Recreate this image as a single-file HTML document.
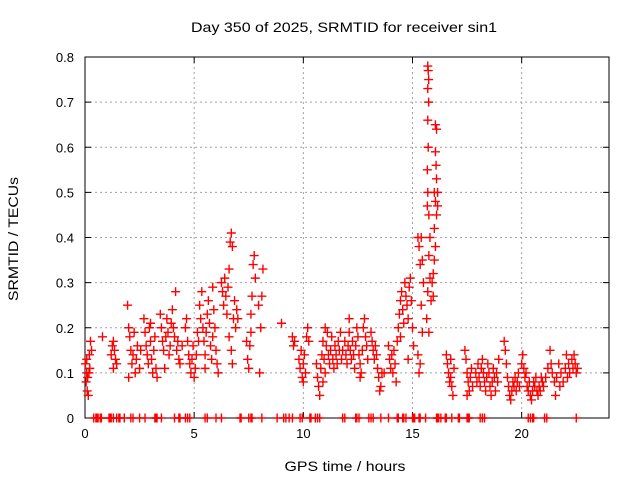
<!DOCTYPE html>
<html><head><meta charset="utf-8"><style>
body{margin:0;background:#fff;}
svg{display:block;font-family:"Liberation Sans",sans-serif;}
</style></head><body>
<svg id="chart" width="640" height="480">
<g id="grid"></g>
<g id="axes"></g>
<g id="marks"></g>
<text x="344" y="32" text-anchor="middle" font-size="14" textLength="306" lengthAdjust="spacingAndGlyphs">Day 350 of 2025, SRMTID for receiver sin1</text>
<text x="345" y="471" text-anchor="middle" font-size="14" textLength="121" lengthAdjust="spacingAndGlyphs">GPS time / hours</text>
<text x="18" y="239" text-anchor="middle" font-size="14" textLength="124" lengthAdjust="spacingAndGlyphs" transform="rotate(-90 18 239)">SRMTID / TECUs</text>
</svg>
<script>
const xTicks=[0,5,10,15,20];
const yTicks=[0,0.1,0.2,0.3,0.4,0.5,0.6,0.7,0.8];
const clusterA=[[0.02,0.12],[0.05,0.08],[0.08,0.1],[0.1,0.06],[0.12,0.09],[0.15,0.05],[0.18,0.1],[0.2,0.14],[0.25,0.17],[0.3,0.15],[0.22,0.11],[0.08,0.13],[0.8,0.18],
[1.2,0.14],[1.25,0.16],[1.3,0.17],[1.35,0.15],[1.4,0.13],[1.45,0.12],[1.3,0.11],
[1.95,0.25],[2.0,0.2],[2.05,0.18],[2.1,0.15],[2.15,0.12],[2.2,0.14],[2.25,0.19],[2.3,0.1],[2.35,0.13],[2.4,0.16],[2.0,0.09],[2.5,0.11],[2.55,0.15],
[2.7,0.22],[2.75,0.19],[2.8,0.16],[2.85,0.14],[2.9,0.12],[2.95,0.2],[3.0,0.17],[3.05,0.13],[3.1,0.1],[3.15,0.15],[3.2,0.18],[3.25,0.11],[3.3,0.09],[3.0,0.21],
[3.45,0.23],[3.5,0.2],[3.55,0.17],[3.6,0.15],[3.7,0.18],[3.75,0.22],[3.8,0.19],[3.85,0.14],[3.9,0.16],[3.95,0.21],[4.0,0.24],[4.05,0.2],[4.1,0.18],[4.15,0.28],[4.2,0.15],[4.25,0.17],[4.3,0.13],[4.35,0.12],[3.65,0.11],[4.45,0.16],
[4.6,0.2],[4.7,0.17],[4.75,0.14],[4.8,0.12],[4.85,0.1],[4.9,0.13],[4.95,0.16],[5.0,0.09],[5.05,0.11],[5.1,0.14],[5.15,0.19],[4.65,0.22],[5.2,0.17]];
const clusterB=[[5.25,0.25],[5.3,0.22],[5.35,0.28],[5.4,0.2],[5.45,0.17],[5.5,0.14],[5.55,0.19],[5.6,0.23],[5.65,0.26],[5.7,0.21],[5.75,0.16],[5.8,0.13],[5.85,0.18],[5.9,0.24],[5.95,0.2],[6.0,0.15],[6.05,0.12],[6.1,0.1],[5.5,0.11],[5.85,0.29],
[6.25,0.3],[6.3,0.28],[6.35,0.25],[6.4,0.31],[6.45,0.27],[6.5,0.23],[6.55,0.29],[6.6,0.33],[6.65,0.39],[6.7,0.41],[6.75,0.38],[6.8,0.22],[6.85,0.26],[6.9,0.2],[6.95,0.24],[7.0,0.22],[6.6,0.18],[6.7,0.15],[6.75,0.12],
[7.4,0.17],[7.45,0.13],[7.5,0.11],[7.55,0.16],[7.6,0.23],[7.65,0.27],[7.7,0.34],[7.75,0.36],[7.8,0.31],[7.95,0.25],[8.0,0.1],[8.05,0.2],[8.1,0.27],[8.15,0.33],[7.6,0.19],
[9.0,0.21],[9.5,0.18],[9.55,0.16],[9.6,0.17],
[9.8,0.13],[9.85,0.11],[9.9,0.15],[9.95,0.09],[10.0,0.12],[10.05,0.14],[10.1,0.1],[10.15,0.18],[10.2,0.2],[10.25,0.17],[10.0,0.08]];
const clusterC=[[10.6,0.12],[10.65,0.09],[10.7,0.07],[10.75,0.05],[10.8,0.11],[10.85,0.14],[10.9,0.17],[10.95,0.13],[11.0,0.1],[11.05,0.16],[11.1,0.19],[11.15,0.14],[11.2,0.12],[11.25,0.15],[11.3,0.18],[11.35,0.13],[11.4,0.11],[11.45,0.16],[11.5,0.14],[11.55,0.12],[11.6,0.17],[11.65,0.15],[11.7,0.19],[11.75,0.13],[11.8,0.15],[10.9,0.08],[11.0,0.2],
[11.9,0.17],[11.95,0.14],[12.0,0.12],[12.05,0.16],[12.1,0.19],[12.15,0.15],[12.2,0.13],[12.25,0.17],[12.3,0.14],[12.35,0.11],[12.4,0.16],[12.45,0.2],[12.5,0.18],[12.55,0.14],[12.6,0.12],[12.65,0.1],[12.7,0.15],[12.75,0.2],[12.8,0.22],[12.85,0.18],[12.9,0.16],[12.95,0.13],[12.1,0.22],[12.6,0.09],
[13.1,0.19],[13.15,0.17],[13.2,0.15],[13.25,0.13],[13.3,0.16],[13.35,0.14],[13.4,0.11],[13.45,0.09],[13.5,0.06],[13.55,0.07],[13.6,0.1],[13.7,0.1],
[13.9,0.16],[13.95,0.13],[14.0,0.11],[14.05,0.14],[14.1,0.1],[14.15,0.15],[14.2,0.12],[14.25,0.08],[14.3,0.17]];
const clusterD=[[14.35,0.2],[14.4,0.23],[14.45,0.26],[14.5,0.28],[14.55,0.24],[14.6,0.21],[14.65,0.3],[14.7,0.27],[14.75,0.25],[14.8,0.22],[14.85,0.29],[14.9,0.31],[14.95,0.26],[15.0,0.2],[15.05,0.16],[14.45,0.18],[14.8,0.13],
[15.25,0.4],[15.3,0.38],[15.35,0.34],[15.4,0.4],[15.45,0.35],[15.5,0.3],[15.4,0.25],[15.3,0.1],[15.25,0.14],[15.35,0.12],[15.45,0.19],
[15.7,0.78],[15.72,0.77],[15.74,0.75],[15.7,0.73],[15.74,0.7],[15.7,0.66],[15.72,0.6],[15.68,0.55],[15.7,0.5],[15.75,0.45],[15.68,0.47],[15.8,0.4],[15.75,0.36],[15.8,0.31],[15.7,0.28],[15.65,0.22],[15.75,0.19],[15.85,0.26],
[16.05,0.65],[16.1,0.64],[16.05,0.59],[16.08,0.56],[16.1,0.53],[16.0,0.5],[16.05,0.48],[16.15,0.47],[16.1,0.45],[16.0,0.42],[16.05,0.38],[16.0,0.35],[15.95,0.32],[15.9,0.3],[15.95,0.27],[16.15,0.5]];
const clusterE=[[16.55,0.14],[16.6,0.12],[16.65,0.1],[16.7,0.08],[16.75,0.09],[16.8,0.07],[16.85,0.05],[16.9,0.11],[16.75,0.13],
[17.4,0.15],[17.45,0.13],[17.5,0.1],[17.55,0.08],[17.6,0.06],[17.65,0.09],[17.7,0.11],[17.75,0.07],[17.5,0.05],
[17.9,0.1],[17.95,0.08],[18.0,0.12],[18.05,0.09],[18.1,0.07],[18.15,0.11],[18.2,0.13],[18.25,0.1],[18.3,0.08],[18.35,0.06],[18.4,0.09],[18.45,0.12],[18.5,0.1],[18.55,0.07],[18.6,0.05],[18.65,0.08],[18.7,0.11],[18.75,0.09],[18.8,0.06],[18.85,0.1],[18.9,0.08],[18.95,0.13],
[19.2,0.17],[19.25,0.15],[19.3,0.12],[19.35,0.09],[19.4,0.07],[19.45,0.05],[19.5,0.04],[19.55,0.06],[19.6,0.08],[19.65,0.07],[19.7,0.09],[19.75,0.06],[19.8,0.08],[19.85,0.1],[19.9,0.07],
[20.0,0.12],[20.05,0.14],[20.1,0.11],[20.15,0.09],[20.2,0.1],[20.25,0.07],[20.3,0.06],[20.35,0.08],[20.4,0.05],[20.45,0.04],[20.5,0.06],[20.55,0.08],[20.6,0.07],[20.65,0.09],[20.7,0.06],[20.75,0.05],[20.8,0.07],[20.85,0.06],[20.9,0.09],[20.95,0.08],
[21.0,0.07],[21.1,0.09],[21.2,0.11],[21.3,0.15],[21.35,0.12],[21.4,0.1],[21.5,0.08],[21.55,0.05],[21.6,0.09],[21.7,0.12],[21.8,0.1],[21.9,0.08],[22.0,0.11],[22.1,0.09],[22.15,0.12],[22.2,0.1],[22.3,0.13],[22.35,0.11],[22.4,0.14],[22.45,0.12],[22.5,0.1],[22.55,0.11],[21.75,0.07],[22.05,0.14]];
const zeroHours=[0.4,0.5,0.55,0.6,0.7,0.75,1.1,1.15,1.2,1.3,1.45,1.55,1.6,1.8,2.1,2.2,2.5,2.75,3.2,3.25,3.3,3.5,4.1,4.3,4.35,4.6,4.7,4.8,5.5,5.6,6.0,6.25,7.1,7.15,7.5,7.6,7.65,8.1,8.8,9.1,9.2,9.35,9.5,9.85,9.95,10.3,10.35,10.55,10.65,10.75,11.8,11.9,12.4,12.45,12.55,13.0,13.1,13.2,13.55,13.9,14.3,14.35,14.55,14.6,14.7,15.0,15.05,15.1,15.3,15.35,15.6,16.1,16.15,16.2,16.3,16.5,16.55,16.8,17.1,17.15,17.5,17.55,17.6,18.1,18.2,18.3,20.3,20.4,20.5,20.55,21.05,21.15,22.5];

const L=85,R=609,T=57,B=418,XMAX=24,YMAX=0.8;
const xs=h=>L+h/XMAX*(R-L);
const ys=v=>B-v/YMAX*(B-T);
const NS='http://www.w3.org/2000/svg';
function mk(tag,attrs,parent){const e=document.createElementNS(NS,tag);for(const k in attrs)e.setAttribute(k,attrs[k]);parent.appendChild(e);return e;}
const grid=document.getElementById('grid'),axes=document.getElementById('axes'),marks=document.getElementById('marks');
xTicks.forEach(t=>{const x=xs(t);
  if(t>0){const g=mk('line',{x1:x,x2:x,y1:T,y2:B,stroke:'#a0a0a0','stroke-dasharray':'2,3'},grid);
  
  }
  mk('line',{x1:x,x2:x,y1:B,y2:B-6,stroke:'#000'},axes);mk('line',{x1:x,x2:x,y1:T,y2:T+6,stroke:'#000'},axes);
  const lb=mk('text',{x:x,y:B+20,'text-anchor':'middle','font-size':'13'},axes);lb.textContent=t;
  
  });
yTicks.forEach(t=>{const y=ys(t);
  if(t>0&&t<YMAX){const g=mk('line',{x1:L,x2:R,y1:y,y2:y,stroke:'#a0a0a0','stroke-dasharray':'2,3'},grid);
  
  }
  mk('line',{x1:L,x2:L+6,y1:y,y2:y,stroke:'#000'},axes);mk('line',{x1:R,x2:R-6,y1:y,y2:y,stroke:'#000'},axes);
  const lb=mk('text',{x:L-11,y:y+5,'text-anchor':'end','font-size':'13'},axes);lb.textContent=t;
  
  });
const fr=mk('rect',{x:L,y:T,width:R-L,height:B-T,fill:'none',stroke:'#000'},axes);


function plus(x,y){const p=mk('path',{d:`M${x-4.5},${y}h9M${x},${y-4.5}v9`,stroke:'#f00','stroke-width':'1.4',fill:'none'},marks);
  
  }
[clusterA,clusterB,clusterC,clusterD,clusterE].forEach(c=>c.forEach(([h,v])=>plus(xs(h),ys(v))));
zeroHours.forEach(h=>plus(xs(h),ys(0)));
</script>
</body></html>
